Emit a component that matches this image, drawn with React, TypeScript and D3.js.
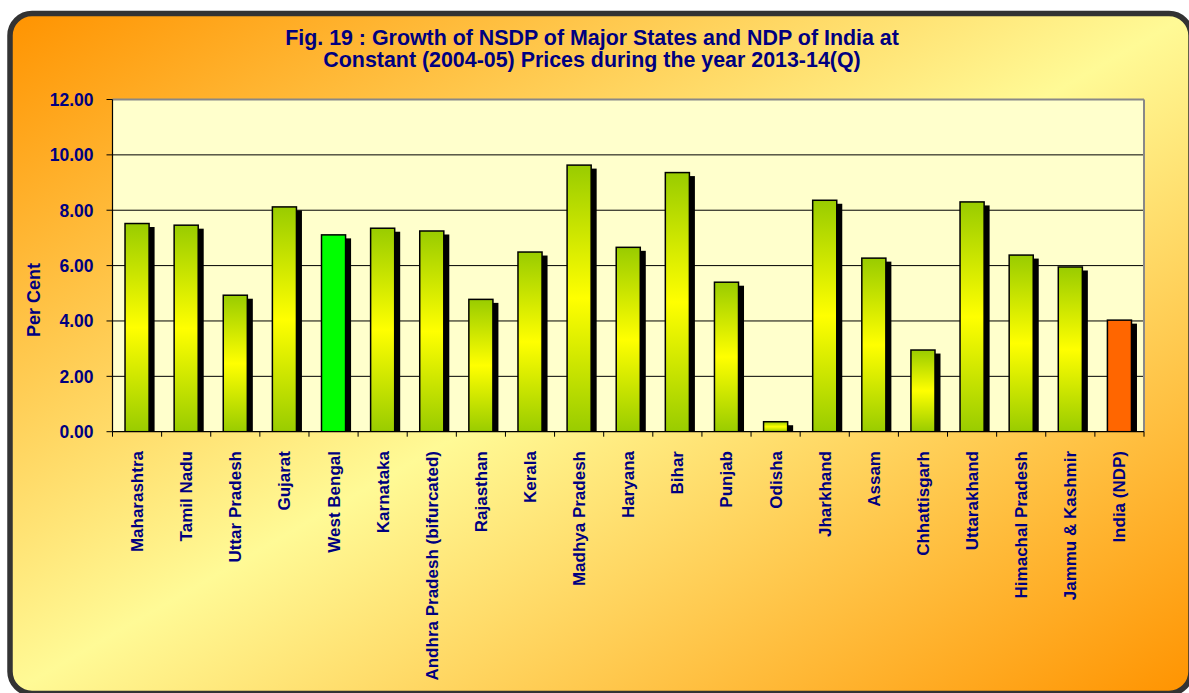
import React from "react";
import * as d3 from "d3";

const categories = [
  "Maharashtra", "Tamil Nadu", "Uttar Pradesh", "Gujarat", "West Bengal", "Karnataka",
  "Andhra Pradesh (bifurcated)", "Rajasthan", "Kerala", "Madhya Pradesh", "Haryana", "Bihar",
  "Punjab", "Odisha", "Jharkhand", "Assam", "Chhattisgarh", "Uttarakhand", "Himachal Pradesh",
  "Jammu & Kashmir", "India (NDP)",
];
const growth = [
  7.52, 7.46, 4.93, 8.12, 7.11, 7.35, 7.25, 4.78, 6.49, 9.63, 6.66, 9.36, 5.4, 0.36, 8.36,
  6.27, 2.95, 8.3, 6.38, 5.95, 4.03,
];
const yTicks = [0, 2, 4, 6, 8, 10, 12];
const titleLines = [
  "Fig. 19 : Growth of NSDP of Major States and NDP of India at",
  "Constant (2004-05) Prices during the year 2013-14(Q)",
];
const yTitle = "Per Cent";

const W = 1189;
const H = 693;
const FONT = "'Liberation Sans', Arial, Helvetica, sans-serif";
const NAVY = "#000080";

export default function App() {
  const x0 = 112.5, x1 = 1144, yTop = 99.5, yBase = 431.7;
  const x = d3.scaleBand<string>().domain(categories).range([x0, x1]).padding(0);
  const y = d3.scaleLinear().domain([0, 12]).range([yBase, yTop]);
  const bw = x.bandwidth();
  const barW = bw * 0.49;

  const fillFor = (c: string) =>
    c === "West Bengal" ? "#00FF00" : c === "India (NDP)" ? "#FF6600" : "url(#barGrad)";

  const bounds = [...categories.map((c) => x(c) as number), x1];

  return (
    <svg width={W} height={H} style={{ position: "absolute", left: 0, top: 0, display: "block" }}>
      <defs>
        <linearGradient id="bgGrad" x1="0" y1="0" x2="1" y2="1">
          <stop offset="0" stopColor="#FF9300" />
          <stop offset="0.5" stopColor="#FFFA96" />
          <stop offset="1" stopColor="#FF9300" />
        </linearGradient>
        <linearGradient id="barGrad" x1="0" y1="0" x2="0" y2="1">
          <stop offset="0" stopColor="#99CC00" />
          <stop offset="0.5" stopColor="#FFFF00" />
          <stop offset="1" stopColor="#99CC00" />
        </linearGradient>
        <clipPath id="plotClip">
          <rect x={x0} y={yTop - 20} width={x1 - x0 + 20} height={yBase - yTop + 20} />
        </clipPath>
      </defs>
      <rect x={0} y={0} width={W} height={H} fill="#FFFFFF" />
      <rect x={10} y={13.5} width={1181} height={680} rx={22} ry={22} fill="url(#bgGrad)" stroke="#333333" strokeWidth={5.5} />

      {/* Title */}
      {titleLines.map((t, i) => (
        <text key={i} x={592} y={45 + i * 22} textAnchor="middle" fontFamily={FONT} fontWeight="bold" fontSize={21.4} fill={NAVY}>
          {t}
        </text>
      ))}

      {/* Plot area */}
      <rect x={x0} y={yTop} width={x1 - x0} height={yBase - yTop} fill="#FFFFCC" />
      {yTicks.filter((v) => v > 0 && v < 12).map((v) => (
        <line key={v} x1={x0} x2={x1} y1={y(v)} y2={y(v)} stroke="#000" strokeWidth={1} />
      ))}
      <line x1={x0} x2={x1} y1={yTop} y2={yTop} stroke="#888" strokeWidth={2} />
      <line x1={x1} x2={x1} y1={yTop} y2={yBase} stroke="#888" strokeWidth={2} />

      {/* Bars */}
      <g clipPath="url(#plotClip)">
        {categories.map((c, i) => {
          const bx = (x(c) as number) + (bw - barW) / 2;
          const by = y(growth[i]);
          return (
            <rect key={"s" + c} x={bx + 5.5} y={by + 3.5} width={barW} height={Math.max(0, yBase - by - 3.5)} fill="#000" />
          );
        })}
        {categories.map((c, i) => {
          const bx = (x(c) as number) + (bw - barW) / 2;
          const by = y(growth[i]);
          return (
            <rect key={"b" + c} x={bx} y={by} width={barW} height={yBase - by} fill={fillFor(c)} stroke="#000" strokeWidth={1.5} />
          );
        })}
      </g>

      {/* Axes */}
      <line x1={x0} x2={x0} y1={yTop} y2={yBase} stroke="#000" strokeWidth={1.2} />
      <line x1={x0} x2={x1} y1={yBase} y2={yBase} stroke="#000" strokeWidth={1.2} />
      {yTicks.map((v) => (
        <g key={v}>
          <line x1={x0 - 6} x2={x0} y1={y(v)} y2={y(v)} stroke="#000" strokeWidth={1} />
          <text x={93.5} y={y(v)} dy="0.36em" textAnchor="end" fontFamily={FONT} fontWeight="bold" fontSize={17.5} fill={NAVY}>
            {d3.format(".2f")(v)}
          </text>
        </g>
      ))}
      {bounds.map((b, i) => (
        <line key={i} x1={b} x2={b} y1={yBase} y2={yBase + 5} stroke="#000" strokeWidth={1} />
      ))}

      {/* X labels */}
      {categories.map((c) => {
        const cx = (x(c) as number) + bw / 2;
        return (
          <text key={"l" + c} transform={`translate(${cx + 6},${451}) rotate(-90)`} textAnchor="end" fontFamily={FONT} fontWeight="bold" fontSize={17} fill={NAVY}>
            {c}
          </text>
        );
      })}

      {/* Y title */}
      <text transform={`translate(40,300) rotate(-90)`} textAnchor="middle" fontFamily={FONT} fontWeight="bold" fontSize={18} fill={NAVY}>
        {yTitle}
      </text>
    </svg>
  );
}
